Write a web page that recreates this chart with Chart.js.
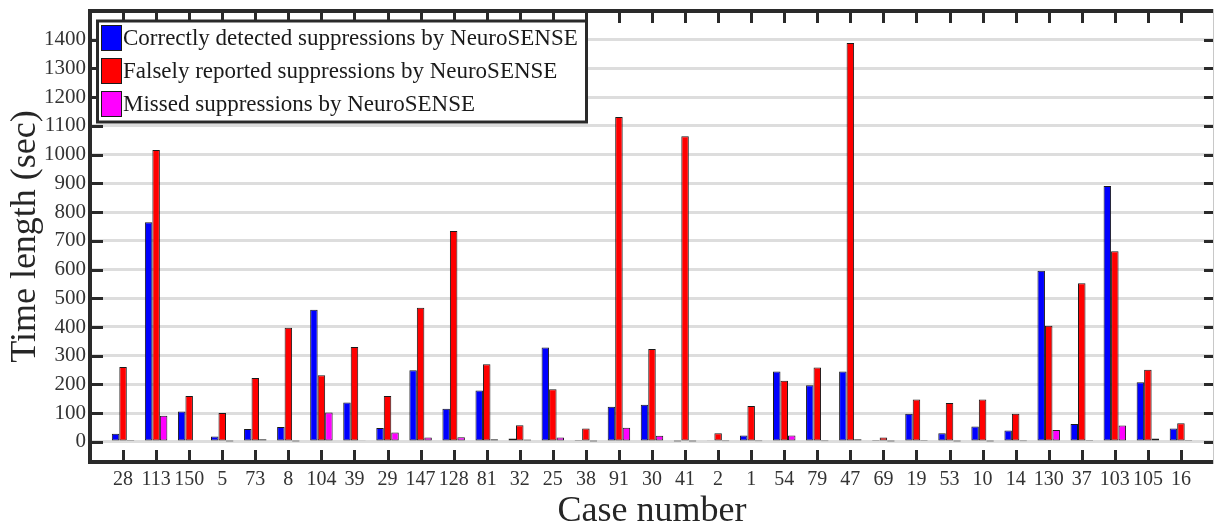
<!DOCTYPE html>
<html>
<head>
<meta charset="utf-8">
<script src="https://cdn.jsdelivr.net/npm/chart.js@4.4.1/dist/chart.umd.min.js"></script>
<style>
  html, body { margin: 0; padding: 0; background: #fff; }
  #wrap { width: 1214px; height: 527px; position: relative; }
</style>
</head>
<body>
<div id="wrap"><canvas id="chart" width="1214" height="527"></canvas></div>
<script>
// case numbers on the x axis
const cases = ['28', '113', '150', '5', '73', '8', '104', '39', '29', '147', '128', '81', '32', '25', '38',
  '91', '30', '41', '2', '1', '54', '79', '47', '69', '19', '53', '10', '14', '130', '37', '103', '105', '16'];

// time lengths in seconds
const correct = [28, 765, 106, 19, 45, 52, 460, 137, 48, 249, 115, 179, 12, 329, 7,
  122, 129, 1, 4, 22, 245, 197, 245, 7, 98, 30, 54, 40, 596, 62, 891, 208, 47];
const falseRep = [261, 1016, 160, 101, 222, 397, 232, 330, 160, 467, 734, 270, 58, 183, 47,
  1131, 323, 1064, 30, 125, 213, 259, 1389, 15, 148, 135, 148, 98, 404, 552, 664, 251, 65];
const missed = [3, 91, 5, 1, 9, 1, 102, 4, 33, 15, 16, 9, 8, 15, 1,
  49, 21, 1, 2, 2, 22, 2, 9, 1, 3, 1, 1, 2, 41, 3, 57, 12, 3];

const yTicks = [0, 100, 200, 300, 400, 500, 600, 700, 800, 900, 1000, 1100, 1200, 1300, 1400];

const seriesNames = [
  'Correctly detected suppressions by NeuroSENSE',
  'Falsely reported suppressions by NeuroSENSE',
  'Missed suppressions by NeuroSENSE'
];
const seriesColors = ['#0000ff', '#ff0000', '#ff00ff'];

// one empty slot on each side, like the reference axis limits
const pad = arr => [null, ...arr, null];
const labels = ['', ...cases, ''];

const axisColor = '#2a2a2a';
const serif = '"Liberation Serif", "Times New Roman", serif';

// frame, inward ticks and the boxed legend
const framePlugin = {
  id: 'frame',
  afterDraw(chart) {
    const { ctx, chartArea: a, scales: { x, y } } = chart;
    ctx.save();
    ctx.strokeStyle = axisColor;
    ctx.lineCap = 'butt';

    // ticks
    ctx.lineWidth = 3;
    yTicks.forEach(v => {
      const py = Math.round(y.getPixelForValue(v)) + 0.5;
      ctx.beginPath();
      ctx.moveTo(a.left, py); ctx.lineTo(a.left + 13, py);
      ctx.moveTo(a.right - 10, py); ctx.lineTo(a.right, py);
      ctx.stroke();
    });
    for (let i = 1; i <= cases.length; i++) {
      const px = Math.round(x.getPixelForValue(i)) + 0.5;
      ctx.beginPath();
      ctx.moveTo(px, a.top); ctx.lineTo(px, a.top + 12);
      ctx.moveTo(px, a.bottom - 12); ctx.lineTo(px, a.bottom);
      ctx.stroke();
    }

    // box
    ctx.lineWidth = 4;
    ctx.beginPath();
    ctx.moveTo(a.right, a.top); ctx.lineTo(a.left, a.top);
    ctx.lineTo(a.left, a.bottom); ctx.lineTo(a.right, a.bottom);
    ctx.stroke();
    ctx.lineWidth = 1;
    ctx.strokeStyle = '#c8c8c8';
    ctx.beginPath();
    ctx.moveTo(a.right - 0.5, a.top - 2); ctx.lineTo(a.right - 0.5, a.bottom + 2);
    ctx.stroke();

    // legend
    const lx = 97.5, ly = 21, lw = 489, lh = 101;
    ctx.fillStyle = '#ffffff';
    ctx.fillRect(lx, ly, lw, lh);
    ctx.lineWidth = 3;
    ctx.strokeStyle = axisColor;
    ctx.strokeRect(lx, ly, lw, lh);
    ctx.font = '23px ' + serif;
    ctx.textBaseline = 'middle';
    ctx.textAlign = 'left';
    chart.data.datasets.forEach((ds, i) => {
      const cy = 38 + i * 33;
      ctx.fillStyle = ds.backgroundColor;
      ctx.fillRect(101, cy - 13, 21, 26);
      ctx.lineWidth = 1;
      ctx.strokeStyle = '#1a1a1a';
      ctx.strokeRect(101.5, cy - 12.5, 20, 25);
      ctx.fillStyle = '#1a1a1a';
      ctx.fillText(ds.label, 123, cy + 1);
    });
    ctx.restore();
  }
};

const datasets = [correct, falseRep, missed].map((vals, i) => ({
  label: seriesNames[i],
  data: pad(vals),
  backgroundColor: seriesColors[i],
  borderColor: '#1a1a1a',
  borderWidth: 1,
  borderSkipped: false,
  categoryPercentage: 0.68,
  barPercentage: 1.0
}));

new Chart(document.getElementById('chart'), {
  type: 'bar',
  data: { labels, datasets },
  plugins: [framePlugin],
  options: {
    responsive: false,
    animation: false,
    devicePixelRatio: 1,
    layout: { padding: { top: 11, right: 0, left: 0, bottom: 0 } },
    plugins: { legend: { display: false }, tooltip: { enabled: false } },
    scales: {
      x: {
        type: 'category',
        offset: false,
        grid: { display: false, drawTicks: false },
        border: { display: false },
        ticks: {
          autoSkip: false, maxRotation: 0, minRotation: 0, padding: 6,
          color: '#333333',
          font: { family: serif, size: 20, lineHeight: 1.2 }
        },
        title: {
          display: true, text: 'Case number', color: '#262626',
          padding: { top: 0, bottom: 0 },
          font: { family: serif, size: 36, lineHeight: 0.84 }
        },
        afterFit(scale) { scale.height = 65; scale.paddingLeft = 0; scale.paddingRight = 0; }
      },
      y: {
        min: -70,
        max: 1500,
        afterBuildTicks(scale) { scale.ticks = yTicks.map(v => ({ value: v })); },
        grid: { color: '#dddddd', lineWidth: 3, drawTicks: false },
        border: { display: false },
        ticks: {
          autoSkip: false,
          padding: 4,
          color: '#333333',
          callback: v => String(v),
          font: { family: serif, size: 21, lineHeight: 1.2 }
        },
        title: {
          display: true, text: 'Time length (sec)', color: '#262626',
          padding: { top: 8, bottom: 0 },
          font: { family: serif, size: 36, lineHeight: 1 }
        },
        afterFit(scale) { scale.width = 90; scale.paddingTop = 0; scale.paddingBottom = 0; }
      }
    }
  }
});
</script>
</body>
</html>
